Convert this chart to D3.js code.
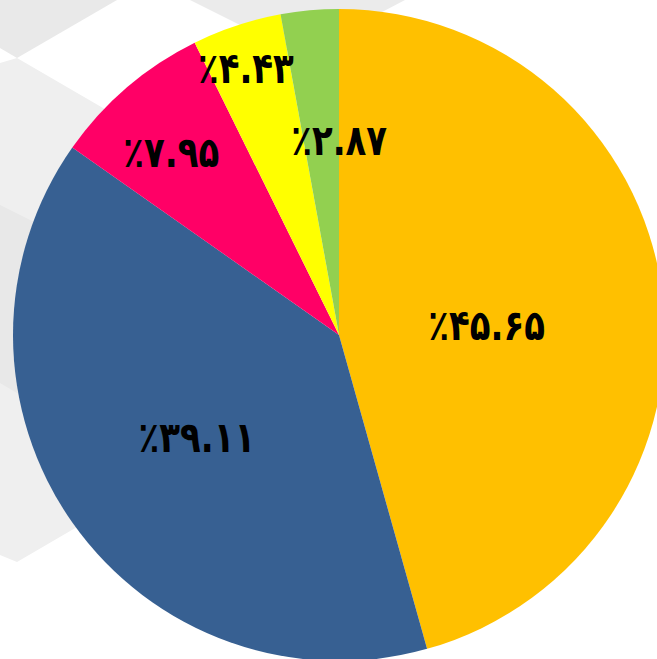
<!DOCTYPE html>
<html>
<head>
<meta charset="utf-8">
<script src="https://cdn.jsdelivr.net/npm/d3@7"></script>
<style>
	html, body { margin: 0; padding: 0; background: #ffffff; }
	svg { display: block; }
</style>
</head>
<body>
<svg id="chart"></svg>
<script>
// slice values (percent), clockwise from 12 o'clock
const values = [45.65, 39.11, 7.95, 4.43, 2.87];
const labels = ["٪۴۵.۶۵", "٪۳۹.۱۱", "٪۷.۹۵", "٪۴.۴۳", "٪۲.۸۷"];
const sliceColors = ["#FFC000", "#376092", "#FF0066", "#FFFF00", "#92D050"];

// label placement: distance from centre, and angular nudge (deg)
const labelRadius = [148, 175, 248, 283, 195];
const labelNudge = [3.9, -0.4, -2, -0.9, 5.2];

const width = 657,
	height = 659;

const svg = d3.select("#chart").attr("width", width).attr("height", height);

// faint watermark shapes in the background
const bg = svg.append("g").attr("class", "bg");
const bgShapes = [
	{ fill: "#e9e9e9", pts: [[0, 0], [117, 0], [17, 58], [0, 48]] },
	{ fill: "#efefef", pts: [[0, 63], [17, 58], [103, 108], [260, 200], [260, 500], [77, 527], [17, 562], [0, 555]] },
	{ fill: "#e8e8e8", pts: [[0, 205], [100, 255], [100, 360], [17, 393], [0, 383]] },
	{ fill: "#ebebeb", pts: [[190, 0], [300, 55], [405, 0]] },
];
bg.selectAll("polygon")
	.data(bgShapes)
	.join("polygon")
	.attr("fill", (d) => d.fill)
	.attr("points", (d) => d.pts.map((p) => p.join(",")).join(" "));

const cx = 339,
	cy = 335,
	radius = 326;

const pie = d3.pie().sort(null).value((d) => d.value);
const arcs = pie(values.map((v, i) => ({ value: v, i })));

const arc = d3.arc().innerRadius(0).outerRadius(radius);

const g = svg.append("g").attr("transform", `translate(${cx},${cy})`);

g.selectAll(".slice")
	.data(arcs)
	.join("path")
	.attr("class", "slice")
	.attr("fill", (d) => sliceColors[d.data.i])
	.attr("d", arc);

g.selectAll(".label")
	.data(arcs)
	.join("text")
	.attr("class", "label")
	.attr("transform", (d) => {
		const i = d.data.i;
		const a = (d.startAngle + d.endAngle) / 2 + (labelNudge[i] * Math.PI) / 180;
		const r = labelRadius[i];
		return `translate(${r * Math.sin(a)},${-r * Math.cos(a)}) scale(1,1.25)`;
	})
	.attr("text-anchor", "middle")
	.attr("dominant-baseline", "central")
	.attr("direction", "ltr")
	.attr("unicode-bidi", "bidi-override")
	.attr("font-family", "'DejaVu Sans', sans-serif")
	.attr("font-weight", "bold")
	.attr("font-size", 34)
	.attr("fill", "#000")
	.text((d) => labels[d.data.i]);
</script>
</body>
</html>
